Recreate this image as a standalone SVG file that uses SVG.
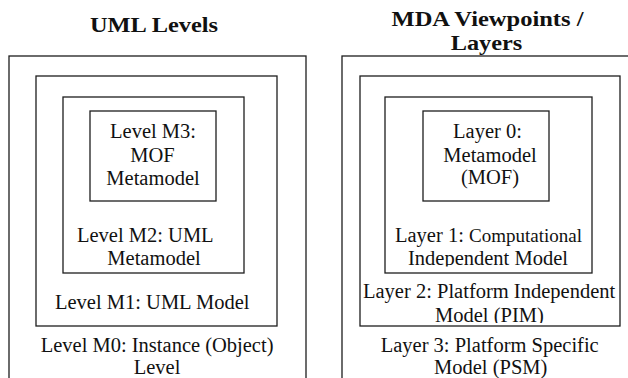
<svg xmlns="http://www.w3.org/2000/svg" width="628" height="378" viewBox="0 0 628 378">
<style>
  .box { fill: none; stroke: #1e1e1e; stroke-width: 1.3; }
  .t { font-family: "Liberation Serif", "Times New Roman", serif; font-size: 20.5px; fill: #111; }
  .m { text-anchor: middle; }
  .title { font-family: "Liberation Serif", "Times New Roman", serif; font-size: 21.5px; font-weight: bold; fill: #111; }
</style>
<defs>
  <clipPath id="clipL1"><rect x="380" y="220" width="220" height="46.5"/></clipPath>
  <clipPath id="clipL2"><rect x="355" y="275" width="270" height="48"/></clipPath>
</defs>
<rect width="628" height="378" fill="#ffffff"/>

<g id="titles">
  <text class="title" x="90" y="32" textLength="128" lengthAdjust="spacingAndGlyphs">UML Levels</text>
  <text class="title" x="391.5" y="25.5" textLength="192" lengthAdjust="spacingAndGlyphs">MDA Viewpoints /</text>
  <text class="title" x="450.7" y="50" textLength="71.6" lengthAdjust="spacingAndGlyphs">Layers</text>
</g>

<g id="connectors"></g>

<g id="uml-m0">
  <rect class="box" x="9" y="56" width="297" height="340"/>
  <text class="t" x="40.7" y="352.3">Level M0: Instance (Object)</text>
  <text class="t m" x="157" y="374">Level</text>
</g>
<g id="uml-m1">
  <rect class="box" x="36" y="76" width="241" height="250"/>
  <text class="t" x="55" y="309">Level M1: UML Model</text>
</g>
<g id="uml-m2">
  <rect class="box" x="63" y="97" width="181" height="176"/>
  <text class="t" x="77" y="242.3">Level M2: UML</text>
  <text class="t m" x="154" y="265">Metamodel</text>
</g>
<g id="uml-m3">
  <rect class="box" x="90" y="111" width="126" height="90"/>
  <text class="t m" x="153" y="137.7">Level M3:</text>
  <text class="t m" x="152.5" y="161.7">MOF</text>
  <text class="t m" x="153" y="185">Metamodel</text>
</g>

<g id="mda-layer3">
  <rect class="box" x="342" y="56" width="300" height="340"/>
  <text class="t" x="380.7" y="352.3">Layer 3: Platform Specific</text>
  <text class="t" x="434" y="374">Model (PSM)</text>
</g>
<g id="mda-layer2">
  <rect class="box" x="360" y="76" width="260" height="250"/>
  <text class="t" x="363" y="298" clip-path="url(#clipL2)">Layer 2: Platform Independent</text>
  <text class="t" x="435" y="321.7" clip-path="url(#clipL2)">Model (PIM)</text>
</g>
<g id="mda-layer1">
  <rect class="box" x="385" y="97" width="207" height="176"/>
  <text class="t" x="395" y="242.3">Layer 1: <tspan font-size="19">Computational</tspan></text>
  <text class="t" x="408" y="265" clip-path="url(#clipL1)">Independent Model</text>
</g>
<g id="mda-layer0">
  <rect class="box" x="423" y="111" width="126" height="90"/>
  <text class="t m" x="487.5" y="137.5">Layer 0:</text>
  <text class="t m" x="490" y="161.7" font-size="19">Metamodel</text>
  <text class="t m" x="490" y="184">(MOF)</text>
</g>
</svg>
